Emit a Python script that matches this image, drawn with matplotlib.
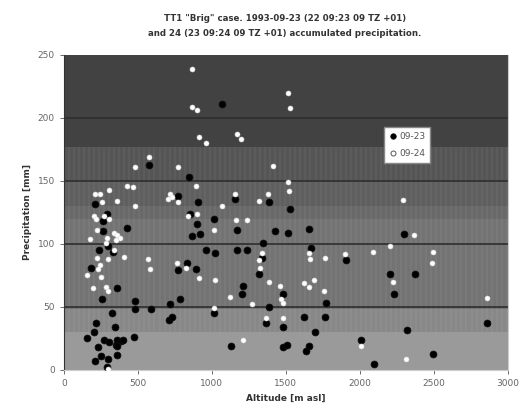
import numpy as np
import matplotlib
matplotlib.use('Agg')
import matplotlib.pyplot as plt

# 09-23 (black) altitude [m asl], precipitation [mm]
alt_23 = [1066, 576, 847, 772, 903, 209, 1155, 1387, 1527, 289, 266, 424, 261, 299,
          239, 333, 180, 360, 255, 480, 480, 586, 326, 716, 782, 709, 732, 218, 343,
          203, 157, 270, 304, 360, 383, 401, 349, 360, 473, 232, 360, 252, 299, 207,
          293, 851, 901, 863, 919, 1014, 959, 1020, 772, 829, 892, 1014, 1126, 1167,
          1171, 1234, 1207, 1201, 1320, 1343, 1336, 1387, 1365, 1426, 1516, 1478,
          1478, 1482, 1509, 1657, 1667, 1905, 2297, 2203, 2230, 2372, 1770, 1622,
          1764, 1696, 2320, 2856, 2007, 1657, 1635, 2495, 2095]
prec_23 = [211, 163, 153, 138, 133, 132, 136, 133, 128, 124, 118, 113, 110, 98,
           95, 94, 81, 65, 56, 55, 48, 48, 45, 52, 56, 40, 42, 37, 34,
           30, 25, 24, 22, 24, 23, 24, 20, 19, 26, 18, 12, 11, 9, 7,
           2, 124, 116, 106, 108, 120, 95, 93, 79, 85, 80, 45, 19, 111,
           95, 95, 67, 60, 76, 101, 89, 50, 37, 110, 109, 60,
           34, 18, 20, 112, 97, 87, 108, 76, 60, 76, 53, 42,
           42, 30, 32, 37, 24, 19, 15, 13, 5]

# 09-24 (white)
alt_24 = [863, 1516, 1527, 863, 901, 914, 959, 1167, 1196, 576, 480, 772, 1414, 424,
          468, 306, 892, 1516, 1522, 209, 243, 255, 360, 480, 716, 733, 705, 772,
          1066, 1155, 1318, 1380, 2293, 203, 214, 270, 304, 225, 338, 360, 378, 349,
          293, 179, 282, 338, 221, 297, 405, 243, 230, 159, 253, 198, 284, 299, 566,
          583, 766, 824, 912, 841, 901, 1014, 1020, 1124, 1164, 1234, 1011, 1268,
          1207, 1341, 1320, 1324, 1387, 1459, 1468, 1478, 1365, 1478, 299, 1659,
          1665, 1767, 1899, 1622, 1693, 1657, 1759, 2365, 2090, 2203, 2491, 2484,
          2225, 2856, 2007, 2311]
prec_24 = [239, 220, 208, 209, 206, 185, 180, 187, 183, 169, 161, 161, 162, 146,
           145, 143, 146, 149, 142, 140, 140, 133, 134, 130, 140, 137, 136, 133,
           130, 140, 134, 140, 135, 122, 120, 122, 120, 111, 109, 107, 105, 103,
           105, 104, 101, 95, 89, 88, 90, 83, 80, 75, 74, 65, 66, 63, 88,
           80, 85, 81, 73, 122, 124, 111, 71, 58, 119, 119, 49, 52,
           24, 93, 87, 81, 70, 67, 56, 53, 41, 41, 1, 93,
           88, 89, 92, 69, 71, 66, 63, 107, 94, 98, 94, 85,
           70, 57, 19, 9]

# background bands (Excel style gradient)
bands = [(0, 30, '#9a9a9a'), (30, 48, '#888888'), (48, 120, '#737373'),
         (120, 130, '#696969'), (130, 150, '#5f5f5f'), (150, 177, '#555555'),
         (177, 250, '#424242')]

fig = plt.figure(figsize=[5.28, 4.19], dpi=100)
ax = fig.add_axes([0.121, 0.117, 0.841, 0.752])

for lo, hi, c in bands:
    ax.axhspan(lo, hi, color=c, linewidth=0, zorder=0)
# faint vertical stripes in the middle bands
stripe_x = np.arange(0, 3000, 34)
ax.vlines(stripe_x, 30, 177, color='white', alpha=0.05, linewidth=1.2, zorder=0.5)

for yv in [50, 100, 150, 200]:
    ax.axhline(yv, color='#2e2e2e', linewidth=1.2, zorder=1)

ax.plot(alt_23, prec_23, linestyle='none', marker='o', markersize=5,
        markerfacecolor='black', markeredgecolor='#111111', markeredgewidth=0.5,
        label='09-23', zorder=3)
ax.plot(alt_24, prec_24, linestyle='none', marker='o', markersize=3.6,
        markerfacecolor='white', markeredgecolor='#dddddd', markeredgewidth=0.4,
        label='09-24', zorder=4)

ax.set_xlim(0, 3000)
ax.set_ylim(0, 250)
ax.set_xticks(np.arange(0, 3001, 500))
ax.set_yticks(np.arange(0, 251, 50))
ax.tick_params(labelsize=6.5, labelcolor='#666666', length=3, width=0.6, color='#555555')
ax.spines['top'].set_visible(False)
ax.spines['left'].set_color('#333333')
ax.spines['bottom'].set_color('#cccccc')
ax.spines['right'].set_color('#cccccc')

ax.set_xlabel('Altitude [m asl]', fontsize=6.5, fontweight='bold', color='#333333')
ax.set_ylabel('Precipitation [mm]', fontsize=6.5, fontweight='bold', color='#333333')
fig.text(0.54, 0.955, 'TT1 "Brig" case. 1993-09-23 (22 09:23 09 TZ +01)',
         ha='center', va='center', fontsize=6.2, fontweight='bold', color='#333333')
fig.text(0.54, 0.92, 'and 24 (23 09:24 09 TZ +01) accumulated precipitation.',
         ha='center', va='center', fontsize=6.2, fontweight='bold', color='#333333')

leg = ax.legend(loc='upper left', bbox_to_anchor=(0.72, 0.77), fontsize=6.5,
                frameon=True, fancybox=False, framealpha=1, edgecolor='#888888',
                handletextpad=0.2, borderpad=0.5, labelspacing=0.9,
                handlelength=1.0, borderaxespad=0)
# open marker needs a visible edge on the white legend box
leg.legend_handles[0].set_markersize(4)
leg.legend_handles[1].set_markeredgecolor('#555555')
leg.legend_handles[1].set_markeredgewidth(0.7)
for t in leg.get_texts():
    t.set_color('#555555')

plt.savefig('out.png', dpi=100)
